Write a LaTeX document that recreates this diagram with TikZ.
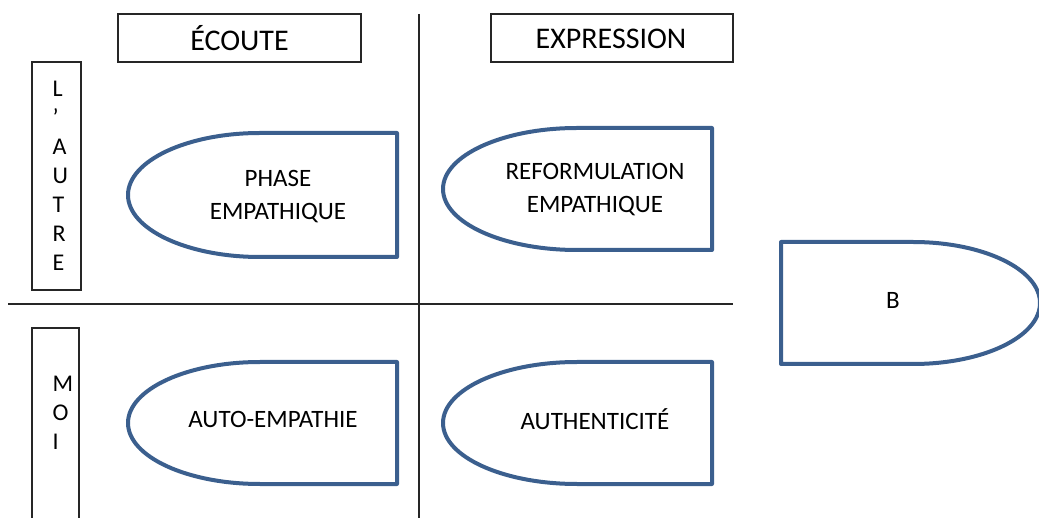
\documentclass[tikz,border=0pt]{standalone}
\usepackage{fontspec}
\setmainfont{Carlito}
\definecolor{shapeblue}{HTML}{3B5F8E}
\definecolor{rule}{HTML}{262626}
\begin{document}
\begin{tikzpicture}[x=1pt,y=-1pt,
  blueshape/.style={draw=shapeblue,line width=4pt,line join=round},
  framebox/.style={draw=rule,line width=1.4pt},
  divider/.style={draw=rule,line width=1.4pt},
  body/.style={font=\fontsize{25}{33}\selectfont,inner sep=0pt,align=center},
  vert/.style={font=\fontsize{24}{29}\selectfont,inner sep=0pt,align=left,anchor=north west},
  head/.style={font=\fontsize{30}{34}\selectfont,inner sep=0pt}]
\useasboundingbox (0,0) rectangle (1039,518);
% dividers
\draw[divider] (419,14) -- (419,520);
\draw[divider] (8,304) -- (733,304);
% header boxes
\draw[framebox] (118,14) rectangle (361,62);
\node[head] (ecoute) at (239.5,38.5) {ÉCOUTE};
\draw[framebox] (491,14) rectangle (733,62);
\node[head] (expression) at (611,38.5) {EXPRESSION};
% side boxes
\draw[framebox] (32,62) rectangle (81,290);
\node[vert] (autre) at (52.5,81) {L\\’\\A\\U\\T\\R\\E};
\draw[framebox] (79,522) -- (79,328) -- (32,328) -- (32,522);
\node[vert] (moi) at (52.5,376) {M\\O\\I};
% shapes
\draw[blueshape] (260,133) -- (397,133) -- (397,257) -- (260,257)
  arc[start angle=90,end angle=270,x radius=132,y radius=62] -- cycle;
\node[body] (phase) at (278,197) {PHASE\\EMPATHIQUE};
\draw[blueshape] (577,128) -- (712,128) -- (712,250) -- (577,250)
  arc[start angle=90,end angle=270,x radius=134,y radius=61] -- cycle;
\node[body] (reform) at (595,190) {REFORMULATION\\EMPATHIQUE};
\draw[blueshape] (260,362) -- (397,362) -- (397,484) -- (260,484)
  arc[start angle=90,end angle=270,x radius=132,y radius=61] -- cycle;
\node[body] (auto) at (273,419) {AUTO-EMPATHIE};
\draw[blueshape] (577,362) -- (712,362) -- (712,484) -- (577,484)
  arc[start angle=90,end angle=270,x radius=134,y radius=61] -- cycle;
\node[body] (authent) at (595,419) {AUTHENTICITÉ};
\draw[blueshape] (913,242) -- (781,242) -- (781,364) -- (913,364)
  arc[start angle=90,end angle=-90,x radius=127,y radius=61] -- cycle;
\node[body] (b) at (893,300) {B};
\end{tikzpicture}
\end{document}
